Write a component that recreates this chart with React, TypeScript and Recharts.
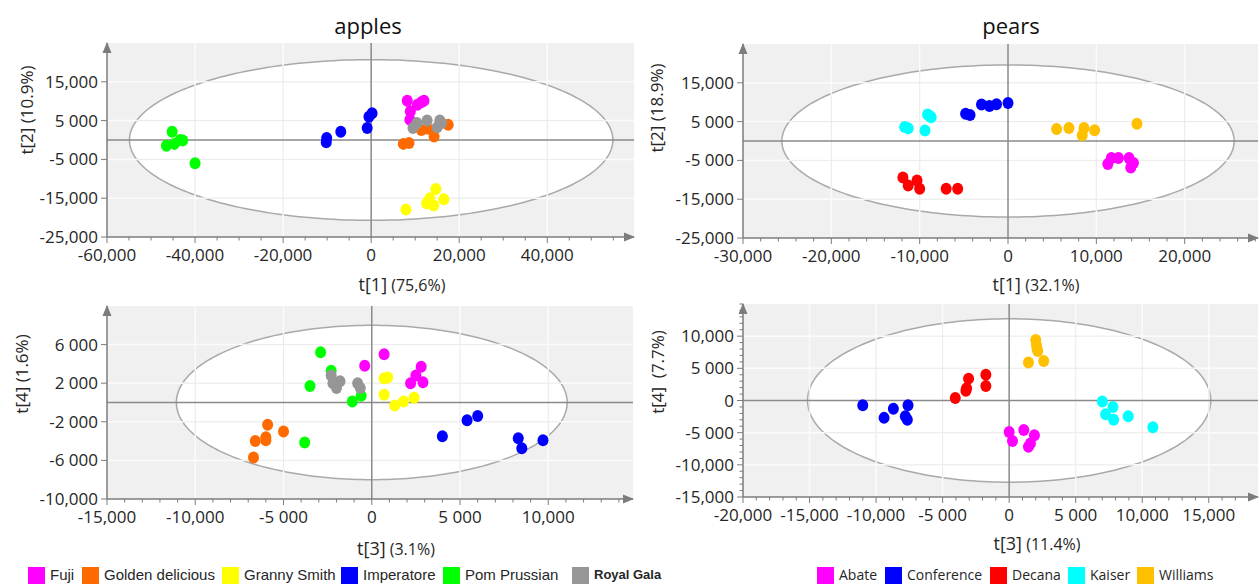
import React from 'react';
import {
  ComposedChart,
  Area,
  Scatter,
  XAxis,
  YAxis,
  CartesianGrid,
  ReferenceLine,
  ReferenceDot,
} from 'recharts';

type Pt = [number, number];

// ---------------- apples ----------------
const appleNames = ['Fuji', 'Golden delicious', 'Granny Smith', 'Imperatore', 'Pom Prussian', 'Royal Gala'];
const appleColors = ['#ff00ff', '#ff6a00', '#ffff00', '#0000ff', '#00ff00', '#969696'];

// score plot t[1] / t[2]
const appleFujiT12: Pt[] = [[8200, 10100], [10500, 9100], [12000, 10100], [11400, 9700], [8900, 7400], [8800, 5200]];
const appleGoldenT12: Pt[] = [[7300, -1000], [8600, -800], [11400, 2600], [12900, 2900], [14300, 900], [17500, 3900]];
const appleGrannyT12: Pt[] = [[14700, -12600], [13300, -15000], [12600, -16300], [14200, -16900], [16500, -15300], [7900, -17900]];
const appleImperT12: Pt[] = [[-10200, -600], [-10100, 500], [-6900, 2100], [-900, 3100], [-500, 6000], [200, 6900]];
const applePomT12: Pt[] = [[-45200, 2100], [-46500, -1500], [-44700, -1000], [-43400, 0], [-42800, -100], [-40000, -6000]];
const appleRoyalT12: Pt[] = [[10400, 4400], [9500, 3100], [12700, 5000], [15600, 5000], [15000, 3300], [16000, 4400]];

// score plot t[3] / t[4]
const appleFujiT34: Pt[] = [[-400, 3800], [700, 5000], [2800, 3700], [2500, 2800], [2200, 2000], [2900, 2100]];
const appleGoldenT34: Pt[] = [[-5900, -2300], [-5000, -3000], [-6000, -3600], [-6000, -3900], [-6600, -4000], [-6700, -5700]];
const appleGrannyT34: Pt[] = [[700, 2500], [900, 2600], [700, 800], [1300, -300], [1800, 100], [2400, 500]];
const appleImperT34: Pt[] = [[4000, -3500], [5400, -1850], [6000, -1400], [8300, -3700], [8500, -4750], [9700, -3900]];
const applePomT34: Pt[] = [[-2900, 5200], [-2300, 3300], [-3500, 1700], [-1100, 100], [-600, 700], [-3800, -4150]];
const appleRoyalT34: Pt[] = [[-2300, 2800], [-2200, 2000], [-2000, 1500], [-1800, 2200], [-800, 2000], [-650, 1500]];

// ---------------- pears ----------------
const pearNames = ['Abate', 'Conference', 'Decana', 'Kaiser', 'Williams'];
const pearColors = ['#ff00ff', '#0000ff', '#ff0000', '#00ffff', '#ffc000'];

const pearAbateT12: Pt[] = [[11300, -5900], [11700, -4400], [12500, -4400], [13700, -4400], [14200, -5700], [13900, -6800]];
const pearConfT12: Pt[] = [[-4800, 7050], [-4300, 6700], [-3000, 9400], [-2100, 9000], [-1300, 9500], [0, 9800]];
const pearDecanaT12: Pt[] = [[-11900, -9400], [-11300, -11500], [-10300, -10200], [-10000, -12300], [-7000, -12300], [-5700, -12300]];
const pearKaiserT12: Pt[] = [[-11700, 3600], [-11300, 3300], [-9100, 6800], [-8700, 6100], [-8900, 6500], [-9400, 2700]];
const pearWilliamsT12: Pt[] = [[5500, 3100], [6900, 3350], [8600, 3350], [8400, 1450], [9800, 2750], [14600, 4450]];

const pearAbateT34: Pt[] = [[0, -4900], [250, -6300], [1100, -4600], [1900, -5400], [1600, -6700], [1450, -7200]];
const pearConfT34: Pt[] = [[-11000, -750], [-9400, -2700], [-8700, -1300], [-7600, -750], [-7800, -2450], [-7650, -3000]];
const pearDecanaT34: Pt[] = [[-4050, 400], [-3250, 1500], [-3200, 1900], [-3050, 3400], [-1750, 4000], [-1750, 2250]];
const pearKaiserT34: Pt[] = [[7000, -150], [7800, -1000], [7250, -2150], [7850, -3000], [8950, -2450], [10800, -4150]];
const pearWilliamsT34: Pt[] = [[2000, 9400], [2050, 8600], [2100, 8000], [2150, 7700], [1450, 5900], [2600, 6150]];

// ---------------- axes / ticks ----------------
const p1XTicks = [-60000, -40000, -20000, 0, 20000, 40000];
const p1YTicks = [-25000, -15000, -5000, 5000, 15000];
const p2XTicks = [-30000, -20000, -10000, 0, 10000, 20000];
const p2YTicks = [-25000, -15000, -5000, 5000, 15000];
const p3XTicks = [-15000, -10000, -5000, 0, 5000, 10000];
const p3YTicks = [-10000, -6000, -2000, 2000, 6000];
const p4XTicks = [-20000, -15000, -10000, -5000, 0, 5000, 10000, 15000];
const p4YTicks = [-15000, -10000, -5000, 0, 5000, 10000];

// Hotelling T2 ellipse semi-axes (score units)
const p1Ellipse: Pt = [54900, 20700];
const p2Ellipse: Pt = [25600, 19600];
const p3Ellipse: Pt = [11070, 8000];
const p4Ellipse: Pt = [15150, 12700];

const AXIS = '#7c7c7c';
const TEXT = '#262626';
const FONT = '"Open Sans", "Noto Sans", sans-serif';

function fmt(v: number): string {
  if (v === 0) return '0';
  const a = Math.abs(v);
  const s = v < 0 ? '-' : '';
  const th = Math.floor(a / 1000);
  const rest = String(a % 1000).padStart(3, '0');
  return a >= 10000 ? `${s}${th},${rest}` : `${s}${th} ${rest}`;
}

function withMinor(domain: Pt, step: number | null, majors: number[]): number[] {
  if (!step) return majors;
  const out: number[] = [];
  const start = Math.ceil(domain[0] / step) * step;
  for (let v = start; v <= domain[1]; v += step) out.push(v);
  majors.forEach((m) => {
    if (!out.includes(m)) out.push(m);
  });
  return out.sort((a, b) => a - b);
}

function ellipseBand(ax: Pt) {
  const [a, b] = ax;
  const n = 120;
  const out: { x: number; band: [number, number] }[] = [];
  for (let i = 0; i <= n; i++) {
    const t = Math.PI - (Math.PI * i) / n;
    const h = b * Math.sin(t);
    out.push({ x: a * Math.cos(t), band: [-h, h] });
  }
  return out;
}

interface PanelCfg {
  left: number;
  top: number;
  width: number;
  height: number;
  margin: { top: number; right: number; left: number; bottom: number };
  yWidth: number;
  xDomain: Pt;
  yDomain: Pt;
  xMajor: number[];
  yMajor: number[];
  xMinorStep: number | null;
  yMinorStep: number | null;
  ellipse: Pt;
  series: Pt[][];
  names: string[];
  colors: string[];
}

function makeXTick(majors: number[]) {
  return (p: any) => {
    const v = p.payload.value;
    const major = majors.includes(v);
    return (
      <g>
        <line x1={p.x} x2={p.x} y1={p.y} y2={p.y + (major ? 6 : 3.5)} stroke={AXIS} strokeWidth={1} />
        {major ? (
          <text x={p.x} y={p.y + 12} dy="0.71em" textAnchor="middle" fontFamily={FONT} fontSize={17} fill={TEXT}>
            {fmt(v)}
          </text>
        ) : null}
      </g>
    );
  };
}

function makeYTick(majors: number[]) {
  return (p: any) => {
    const v = p.payload.value;
    const major = majors.includes(v);
    return (
      <g>
        <line x1={p.x} x2={p.x - (major ? 6 : 3.5)} y1={p.y} y2={p.y} stroke={AXIS} strokeWidth={1} />
        {major ? (
          <text x={p.x - 9} y={p.y} dy="0.355em" textAnchor="end" fontFamily={FONT} fontSize={17} fill={TEXT}>
            {fmt(v)}
          </text>
        ) : null}
      </g>
    );
  };
}

function dotShape(color: string) {
  return (p: any) => <ellipse cx={p.cx} cy={p.cy} rx={5.5} ry={6} fill={color} />;
}

function Panel({ cfg }: { cfg: PanelCfg }) {
  const [a, b] = cfg.ellipse;
  const band = ellipseBand(cfg.ellipse);
  const vGrid = cfg.xMajor.filter((v) => v !== 0 && v !== cfg.xDomain[0]);
  const hGrid = cfg.yMajor.filter((v) => v !== 0 && v !== cfg.yDomain[0]);
  const xTicks = withMinor(cfg.xDomain, cfg.xMinorStep, cfg.xMajor);
  const yTicks = withMinor(cfg.yDomain, cfg.yMinorStep, cfg.yMajor);
  return (
    <div style={{ position: 'absolute', left: cfg.left, top: cfg.top, width: cfg.width, height: cfg.height }}>
      <ComposedChart width={cfg.width} height={cfg.height} data={band} margin={cfg.margin}>
        <CartesianGrid horizontal={false} vertical={false} fill="#f0f0f0" />
        <XAxis
          type="number"
          dataKey="x"
          domain={cfg.xDomain}
          allowDataOverflow
          ticks={xTicks}
          interval={0}
          tickSize={0}
          tickMargin={0}
          tickLine={false}
          tick={makeXTick(cfg.xMajor)}
          axisLine={{ stroke: AXIS, strokeWidth: 1.5 }}
          height={50}
        />
        <YAxis
          type="number"
          domain={cfg.yDomain}
          allowDataOverflow
          ticks={yTicks}
          interval={0}
          tickSize={0}
          tickMargin={0}
          tickLine={false}
          tick={makeYTick(cfg.yMajor)}
          axisLine={{ stroke: AXIS, strokeWidth: 1.5 }}
          width={cfg.yWidth}
        />
        <Area
          dataKey="band"
          type="linear"
          stroke="#a9a9a9"
          strokeWidth={1.5}
          fill="#ffffff"
          fillOpacity={1}
          dot={false}
          activeDot={false}
          isAnimationActive={false}
        />
        {vGrid.map((v) => (
          <ReferenceLine key={`vw${v}`} x={v} stroke="#fbfbfb" strokeWidth={1.5} />
        ))}
        {hGrid.map((v) => (
          <ReferenceLine key={`hw${v}`} y={v} stroke="#fbfbfb" strokeWidth={1.5} />
        ))}
        {vGrid
          .filter((v) => Math.abs(v) < a)
          .map((v) => {
            const h = b * Math.sqrt(1 - (v / a) ** 2);
            return (
              <ReferenceLine
                key={`vi${v}`}
                segment={[
                  { x: v, y: -h },
                  { x: v, y: h },
                ]}
                stroke="#ebebeb"
                strokeWidth={1}
              />
            );
          })}
        {hGrid
          .filter((v) => Math.abs(v) < b)
          .map((v) => {
            const w = a * Math.sqrt(1 - (v / b) ** 2);
            return (
              <ReferenceLine
                key={`hi${v}`}
                segment={[
                  { x: -w, y: v },
                  { x: w, y: v },
                ]}
                stroke="#ebebeb"
                strokeWidth={1}
              />
            );
          })}
        <ReferenceLine x={0} stroke="#8a8a8a" strokeWidth={1.5} />
        <ReferenceLine y={0} stroke="#8a8a8a" strokeWidth={1.5} />
        {cfg.series.map((pts, i) => (
          <Scatter
            key={cfg.names[i]}
            name={cfg.names[i]}
            data={pts.map(([x, y]) => ({ x, y }))}
            dataKey="y"
            fill={cfg.colors[i]}
            shape={dotShape(cfg.colors[i])}
            isAnimationActive={false}
          />
        ))}
        <ReferenceDot
          x={cfg.xDomain[1]}
          y={cfg.yDomain[0]}
          ifOverflow="visible"
          shape={(p: any) => (
            <path d={`M${p.cx + 1},${p.cy} L${p.cx - 10},${p.cy - 4.5} L${p.cx - 10},${p.cy + 4.5} Z`} fill={AXIS} />
          )}
        />
        <ReferenceDot
          x={cfg.xDomain[0]}
          y={cfg.yDomain[1]}
          ifOverflow="visible"
          shape={(p: any) => (
            <path d={`M${p.cx},${p.cy - 1} L${p.cx - 4.5},${p.cy + 10} L${p.cx + 4.5},${p.cy + 10} Z`} fill={AXIS} />
          )}
        />
      </ComposedChart>
    </div>
  );
}

const panels: PanelCfg[] = [
  {
    left: 0, top: 0, width: 640, height: 300,
    margin: { top: 43, right: 6, left: 0, bottom: 13 },
    yWidth: 107,
    xDomain: [-60000, 59700], yDomain: [-25000, 25000],
    xMajor: p1XTicks, yMajor: p1YTicks, xMinorStep: 5000, yMinorStep: null,
    ellipse: p1Ellipse,
    series: [appleFujiT12, appleGoldenT12, appleGrannyT12, appleImperT12, applePomT12, appleRoyalT12],
    names: appleNames, colors: appleColors,
  },
  {
    left: 640, top: 0, width: 620, height: 300,
    margin: { top: 44, right: 2, left: 0, bottom: 12 },
    yWidth: 103,
    xDomain: [-30000, 28300], yDomain: [-25000, 25000],
    xMajor: p2XTicks, yMajor: p2YTicks, xMinorStep: 2000, yMinorStep: null,
    ellipse: p2Ellipse,
    series: [pearAbateT12, pearConfT12, pearDecanaT12, pearKaiserT12, pearWilliamsT12],
    names: pearNames, colors: pearColors,
  },
  {
    left: 0, top: 300, width: 640, height: 284,
    margin: { top: 6, right: 7, left: 0, bottom: 35 },
    yWidth: 107,
    xDomain: [-15000, 14800], yDomain: [-10000, 10000],
    xMajor: p3XTicks, yMajor: p3YTicks, xMinorStep: 1000, yMinorStep: null,
    ellipse: p3Ellipse,
    series: [appleFujiT34, appleGoldenT34, appleGrannyT34, appleImperT34, applePomT34, appleRoyalT34],
    names: appleNames, colors: appleColors,
  },
  {
    left: 640, top: 300, width: 620, height: 284,
    margin: { top: 4, right: 2, left: 0, bottom: 37 },
    yWidth: 103,
    xDomain: [-20000, 18700], yDomain: [-15000, 15000],
    xMajor: p4XTicks, yMajor: p4YTicks, xMinorStep: 1000, yMinorStep: 1000,
    ellipse: p4Ellipse,
    series: [pearAbateT34, pearConfT34, pearDecanaT34, pearKaiserT34, pearWilliamsT34],
    names: pearNames, colors: pearColors,
  },
];

// layout of text (pixel positions)
const titles = [
  { text: 'apples', x: 368, y: 25 },
  { text: 'pears', x: 1011, y: 25 },
];
const xTitles = [
  { main: 't[1]', pct: '(75,6%)', x: 402, y: 284 },
  { main: 't[1]', pct: '(32.1%)', x: 1036, y: 284 },
  { main: 't[3]', pct: '(3.1%)', x: 396, y: 548 },
  { main: 't[3]', pct: '(11.4%)', x: 1037, y: 543 },
];
const yTitles = [
  { text: 't[2] (10.9%)', x: 26, y: 110 },
  { text: 't[2] (18.9%)', x: 656, y: 108 },
  { text: 't[4] (1.6%)', x: 21, y: 374 },
  { text: 't[4]  (7.7%)', x: 657, y: 372 },
];
const appleLegendX = [28, 82, 222, 341, 443, 572];
const pearLegendX = [817, 885, 990, 1068, 1137];
const appleLegendSizes = [15, 15, 15, 15, 15, 13];
const appleLegendWeights = [400, 400, 400, 400, 400, 700];

function LegendRow({
  names, colors, xs, family, sizes, weights,
}: { names: string[]; colors: string[]; xs: number[]; family: string; sizes: number[]; weights: number[] }) {
  return (
    <>
      {names.map((n, i) => (
        <div key={n} style={{ position: 'absolute', left: xs[i], top: 566, height: 18, display: 'flex', alignItems: 'center', whiteSpace: 'nowrap' }}>
          <div style={{ width: 17, height: 17, background: colors[i], marginRight: 5 }} />
          <span style={{ fontFamily: family, fontSize: sizes[i], fontWeight: weights[i], color: TEXT, lineHeight: '18px' }}>{n}</span>
        </div>
      ))}
    </>
  );
}

export default function App() {
  return (
    <div style={{ position: 'absolute', left: 0, top: 0, width: 1260, height: 584, background: '#ffffff', overflow: 'hidden' }}>
      {panels.map((p, i) => (
        <Panel key={i} cfg={p} />
      ))}
      {titles.map((t) => (
        <div key={t.text} style={{ position: 'absolute', left: t.x, top: t.y, transform: 'translate(-50%, -50%)', fontFamily: FONT, fontSize: 22, color: '#111', whiteSpace: 'nowrap' }}>
          {t.text}
        </div>
      ))}
      {xTitles.map((t, i) => (
        <div key={i} style={{ position: 'absolute', left: t.x, top: t.y, transform: 'translate(-50%, -50%)', fontFamily: FONT, color: TEXT, whiteSpace: 'nowrap' }}>
          <span style={{ fontSize: 18 }}>{t.main}</span> <span style={{ fontSize: 16 }}>{t.pct}</span>
        </div>
      ))}
      {yTitles.map((t, i) => (
        <div key={i} style={{ position: 'absolute', left: t.x, top: t.y, transform: 'translate(-50%, -50%) rotate(-90deg)', fontFamily: FONT, fontSize: 17, color: TEXT, whiteSpace: 'pre' }}>
          {t.text}
        </div>
      ))}
      <LegendRow
        names={appleNames}
        colors={appleColors}
        xs={appleLegendX}
        family={'"Liberation Sans", Arial, sans-serif'}
        sizes={appleLegendSizes}
        weights={appleLegendWeights}
      />
      <LegendRow
        names={pearNames}
        colors={pearColors}
        xs={pearLegendX}
        family={FONT}
        sizes={pearNames.map(() => 14)}
        weights={pearNames.map(() => 400)}
      />
    </div>
  );
}
